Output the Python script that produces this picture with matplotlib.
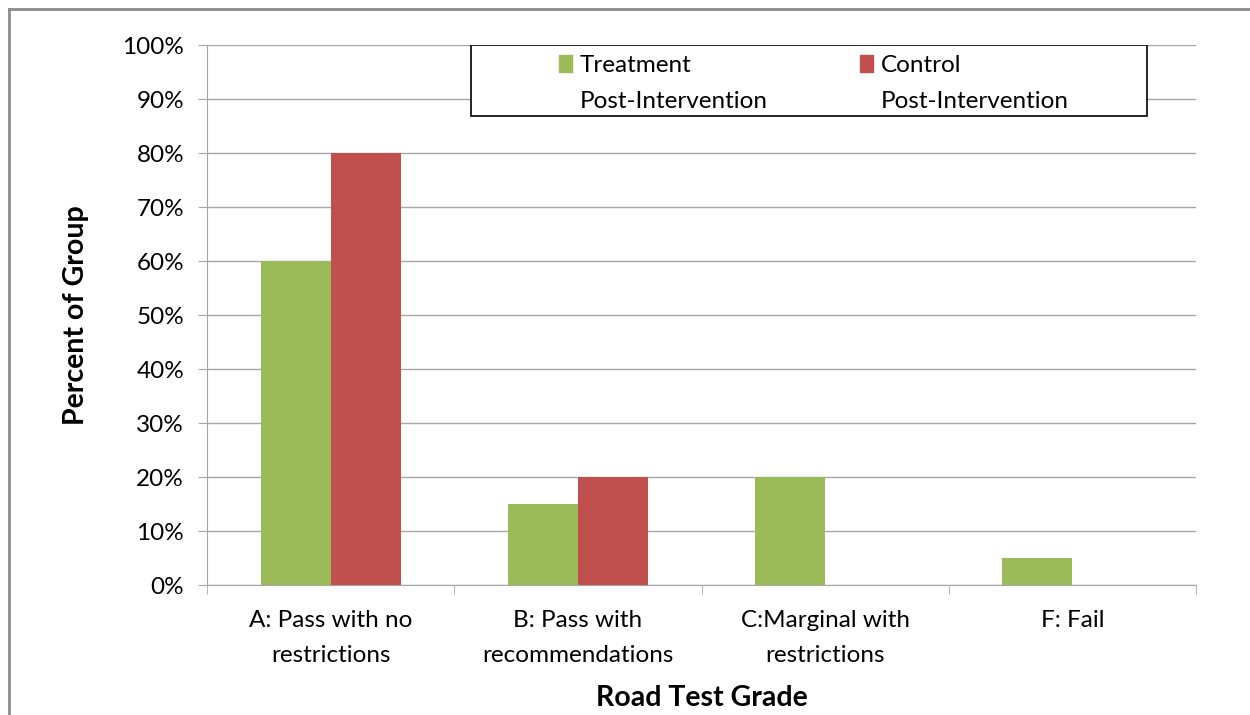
import numpy as np
import matplotlib.pyplot as plt
from matplotlib.patches import Rectangle
from matplotlib.lines import Line2D

plt.rcParams['font.family'] = ['Lato', 'DejaVu Sans']

grades = ['A: Pass with no\nrestrictions', 'B: Pass with\nrecommendations',
          'C:Marginal with\nrestrictions', 'F: Fail']
treatment = [60, 15, 20, 5]
control = [80, 20, 0, 0]
series_names = ['Treatment', 'Control']
series_sub = 'Post-Intervention'
yticks = np.arange(0, 101, 10)

green = '#9BBB59'
red = '#C0504D'
grid_grey = '#a6a6a6'
fs = 17.5

W, H = 1250, 715
fig = plt.figure(figsize=(W / 100, H / 100), dpi=100)
ax = fig.add_axes([207 / W, 1 - 585 / H, (1196 - 207) / W, (585 - 45) / H])

x = np.arange(len(grades))
width = 0.283
ax.bar(x - width / 2, treatment, width, color=green, zorder=2)
ax.bar(x + width / 2, control, width, color=red, zorder=2)

ax.set_xlim(-0.5, len(grades) - 0.5)
ax.set_ylim(0, 100)
ax.set_yticks(yticks)
ax.set_yticklabels(['%d%%' % v for v in yticks])
ax.yaxis.grid(True, color=grid_grey, lw=1)
ax.set_axisbelow(True)

ax.set_xticks(x)
ax.set_xticklabels(grades, fontsize=fs, linespacing=1.8)
ax.set_xticks(np.arange(-0.5, len(grades)), minor=True)
ax.tick_params(axis='x', which='major', length=0, pad=18)
ax.tick_params(axis='x', which='minor', length=6.5, color=grid_grey, direction='out')
ax.tick_params(axis='y', length=6.5, color=grid_grey, labelsize=fs, pad=10)

for s in ['top', 'right']:
    ax.spines[s].set_visible(False)
for s in ['left', 'bottom']:
    ax.spines[s].set_color(grid_grey)

ax.set_xlabel('Road Test Grade', fontsize=20.5, fontweight='bold', labelpad=14)
ax.set_ylabel('Percent of Group', fontsize=20.5, fontweight='bold', labelpad=24)

# legend box drawn separately so it can be wider than its contents
box = Rectangle((0.267, 0.8685), 0.9505 - 0.267, 1 - 0.8685, transform=ax.transAxes,
                facecolor='white', edgecolor='black', lw=1.2, zorder=4)
ax.add_patch(box)

blank = Rectangle((0, 0), 1, 1, facecolor='none', edgecolor='none')
handles = [Rectangle((0, 0), 1, 1, color=green), blank,
           Rectangle((0, 0), 1, 1, color=red), blank]
labels = [series_names[0], series_sub, series_names[1], series_sub]
leg = fig.legend(handles, labels, ncol=2, loc='upper left',
                 bbox_to_anchor=(559 / W, 1 - 55 / H), frameon=False,
                 fontsize=fs, borderpad=0, borderaxespad=0,
                 handlelength=0.55, handleheight=0.7, handletextpad=0.3,
                 columnspacing=3.8, labelspacing=0.6)
leg.set_zorder(6)

# outer chart frame: only the left and top edges fall inside the image
frame_x = 8.5 / W
frame_y = 1 - 8.5 / H
fig.add_artist(Line2D([frame_x, frame_x], [0, frame_y], transform=fig.transFigure,
                      color='#8c8c8c', lw=2))
fig.add_artist(Line2D([frame_x, 1], [frame_y, frame_y], transform=fig.transFigure,
                      color='#8c8c8c', lw=2))

fig.savefig('out.png', dpi=100)
